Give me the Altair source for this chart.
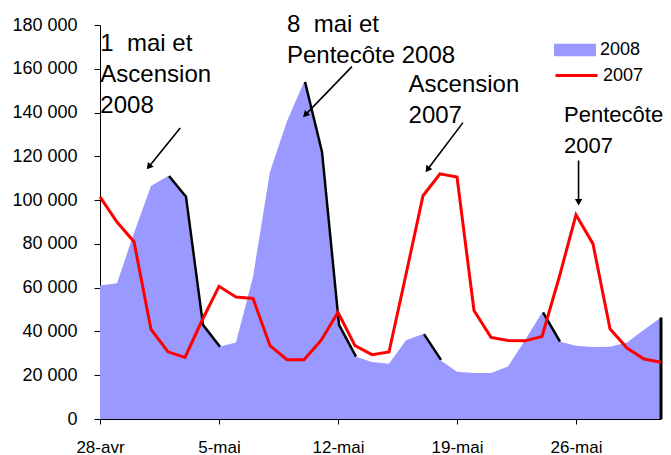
import altair as alt
import pandas as pd

# ---- data ----
DAYS = list(range(34))  # 28 avril 2008 .. 31 mai 2008
TICK_DAYS = [0, 7, 14, 21, 28]
TICK_LABELS = ["28-avr", "5-mai", "12-mai", "19-mai", "26-mai"]
Y_TICKS = list(range(0, 180001, 20000))

V2008 = [61000, 62000, 85000, 106500, 111000, 101500, 43000, 33000, 35000, 65000,
         113000, 136000, 154000, 122000, 43000, 28500, 26000, 25200, 36000, 38800,
         27000, 21600, 21000, 21000, 24000, 36000, 48700, 35400, 33500, 32900,
         33000, 35000, 40800, 46400]
V2007 = [101500, 90000, 81000, 41000, 30700, 28100, 45000, 60600, 55700, 55100,
         33500, 27100, 27100, 35900, 48700, 33500, 29400, 30600, 66000, 102000,
         112000, 110500, 49600, 37300, 35900, 35700, 37700, 64400, 93300, 80000,
         41200, 32400, 27400, 25900]
EDGE_SEGMENTS = [(4, 7), (12, 15), (19, 20), (26, 27)]

ANNOT_TEXT = ["1\u00a0 mai et\nAscension\n2008", "8\u00a0 mai et\nPentecôte 2008",
              "Ascension\n2007", "Pentecôte\n2007"]
ANNOT_DAY = [0.02, 11.0, 18.15, 27.3]
ANNOT_VAL = [167900, 177000, 149600, 135900]

ARROW_DAY = [4.72, 14.82, 21.35, 28.15]
ARROW_VAL = [133000, 161000, 135400, 118100]
ARROW_DAY2 = [2.91, 12.12, 19.30, 28.15]
ARROW_VAL2 = [115600, 139300, 114300, 99500]
ARROW_ANGLE = [219, 224, 217, 180]

FONT = "Liberation Sans"

df = pd.DataFrame({"day": DAYS, "v2008": V2008, "v2007": V2007})
df["s2008"] = "2008"
df["s2007"] = "2007"

edge_rows = []
for k, (a, b) in enumerate(EDGE_SEGMENTS):
    for d in range(a, b + 1):
        edge_rows.append({"day": d, "v": V2008[d], "seg": k})
edge_df = pd.DataFrame(edge_rows)

annot_df = pd.DataFrame({"day": ANNOT_DAY, "v": ANNOT_VAL, "text": ANNOT_TEXT})
arrow_df = pd.DataFrame({"day": ARROW_DAY, "v": ARROW_VAL, "day2": ARROW_DAY2,
                         "v2": ARROW_VAL2, "angle": ARROW_ANGLE})

label_expr = " : ".join(f"datum.value == {d} ? '{l}'" for d, l in zip(TICK_DAYS, TICK_LABELS)) + " : ''"

xscale = alt.Scale(domain=[0, 33], nice=False, zero=False)
yscale = alt.Scale(domain=[0, 180000], nice=False)

x_axis = alt.Axis(values=TICK_DAYS, labelExpr=label_expr, title=None, grid=False,
                  tickSize=5, labelPadding=15, labelFontSize=17, labelFont=FONT,
                  labelFlush=False, labelColor="black", domainColor="black", tickColor="black")
y_axis = alt.Axis(values=Y_TICKS, labelExpr="replace(format(datum.value, ','), ',', ' ')",
                  title=None, grid=False, tickSize=6, labelPadding=17, labelFontSize=18,
                  labelFont=FONT, labelColor="black", domainColor="black", tickColor="black")

X = alt.X("day:Q", scale=xscale, axis=x_axis)
Y = alt.Y("v2008:Q", scale=yscale, axis=y_axis)

area = alt.Chart(df).mark_area(opacity=1, interpolate="linear").encode(
    x=X, y=Y,
    fill=alt.Fill("s2008:N", scale=alt.Scale(domain=["2008"], range=["#9999ff"]),
                  legend=alt.Legend(orient="none", legendX=454, legendY=4, title=None,
                                    symbolType="M-1,-0.3H1V0.3H-1Z", symbolSize=1764,
                                    symbolStrokeWidth=0, labelFontSize=18, labelFont=FONT,
                                    labelColor="black", labelOffset=4, padding=0)),
)

edges = alt.Chart(edge_df).mark_line(color="black", strokeWidth=2.5, xOffset=1).encode(
    x=alt.X("day:Q", scale=xscale, axis=x_axis),
    y=alt.Y("v:Q", scale=yscale, axis=y_axis),
    detail="seg:N",
)

last_edge = alt.Chart(df.iloc[[-1]]).mark_rule(color="black", strokeWidth=3).encode(
    x=alt.X("day:Q", scale=xscale, axis=x_axis),
    y=alt.Y("v2008:Q", scale=yscale, axis=y_axis),
    y2=alt.datum(0),
)

line = alt.Chart(df).mark_line(strokeWidth=3).encode(
    x=X,
    y=alt.Y("v2007:Q", scale=yscale, axis=y_axis),
    stroke=alt.Stroke("s2007:N", scale=alt.Scale(domain=["2007"], range=["#ff0000"]),
                      legend=alt.Legend(orient="none", legendX=454, legendY=28, title=None,
                                        symbolType="M-1,0H1", symbolSize=1764,
                                        symbolStrokeWidth=3, labelFontSize=18, labelFont=FONT,
                                        labelColor="black", labelOffset=4, padding=0)),
)

def text_layer(data, size):
    return alt.Chart(data).mark_text(align="left", baseline="alphabetic", fontSize=size,
                                     font=FONT, color="black", lineBreak="\n",
                                     lineHeight=31).encode(
        x=alt.X("day:Q", scale=xscale, axis=x_axis),
        y=alt.Y("v:Q", scale=yscale, axis=y_axis),
        text="text:N",
    )

texts_main = text_layer(annot_df.iloc[:3], 24)
texts_last = text_layer(annot_df.iloc[3:], 22)

arrow_lines = alt.Chart(arrow_df).mark_rule(color="black", strokeWidth=1.6).encode(
    x=alt.X("day:Q", scale=xscale, axis=x_axis),
    y=alt.Y("v:Q", scale=yscale, axis=y_axis),
    x2="day2:Q", y2="v2:Q",
)

arrow_heads = alt.Chart(arrow_df).mark_point(shape="triangle", filled=True, size=55,
                                             color="black", opacity=1).encode(
    x=alt.X("day2:Q", scale=xscale, axis=x_axis),
    y=alt.Y("v2:Q", scale=yscale, axis=y_axis),
    angle=alt.Angle("angle:Q", scale=None),
)

chart = alt.layer(area, edges, last_edge, line, texts_main, texts_last,
                  arrow_lines, arrow_heads).resolve_scale(
    fill="independent", stroke="independent"
).properties(
    width=561, height=394,
    autosize=alt.AutoSizeParams(type="none"),
    padding={"left": 92, "top": 17, "right": 2, "bottom": 36},
    background="white",
).configure_view(stroke=None)

chart.save("out.html", embed_options={"renderer": "svg", "actions": False})
